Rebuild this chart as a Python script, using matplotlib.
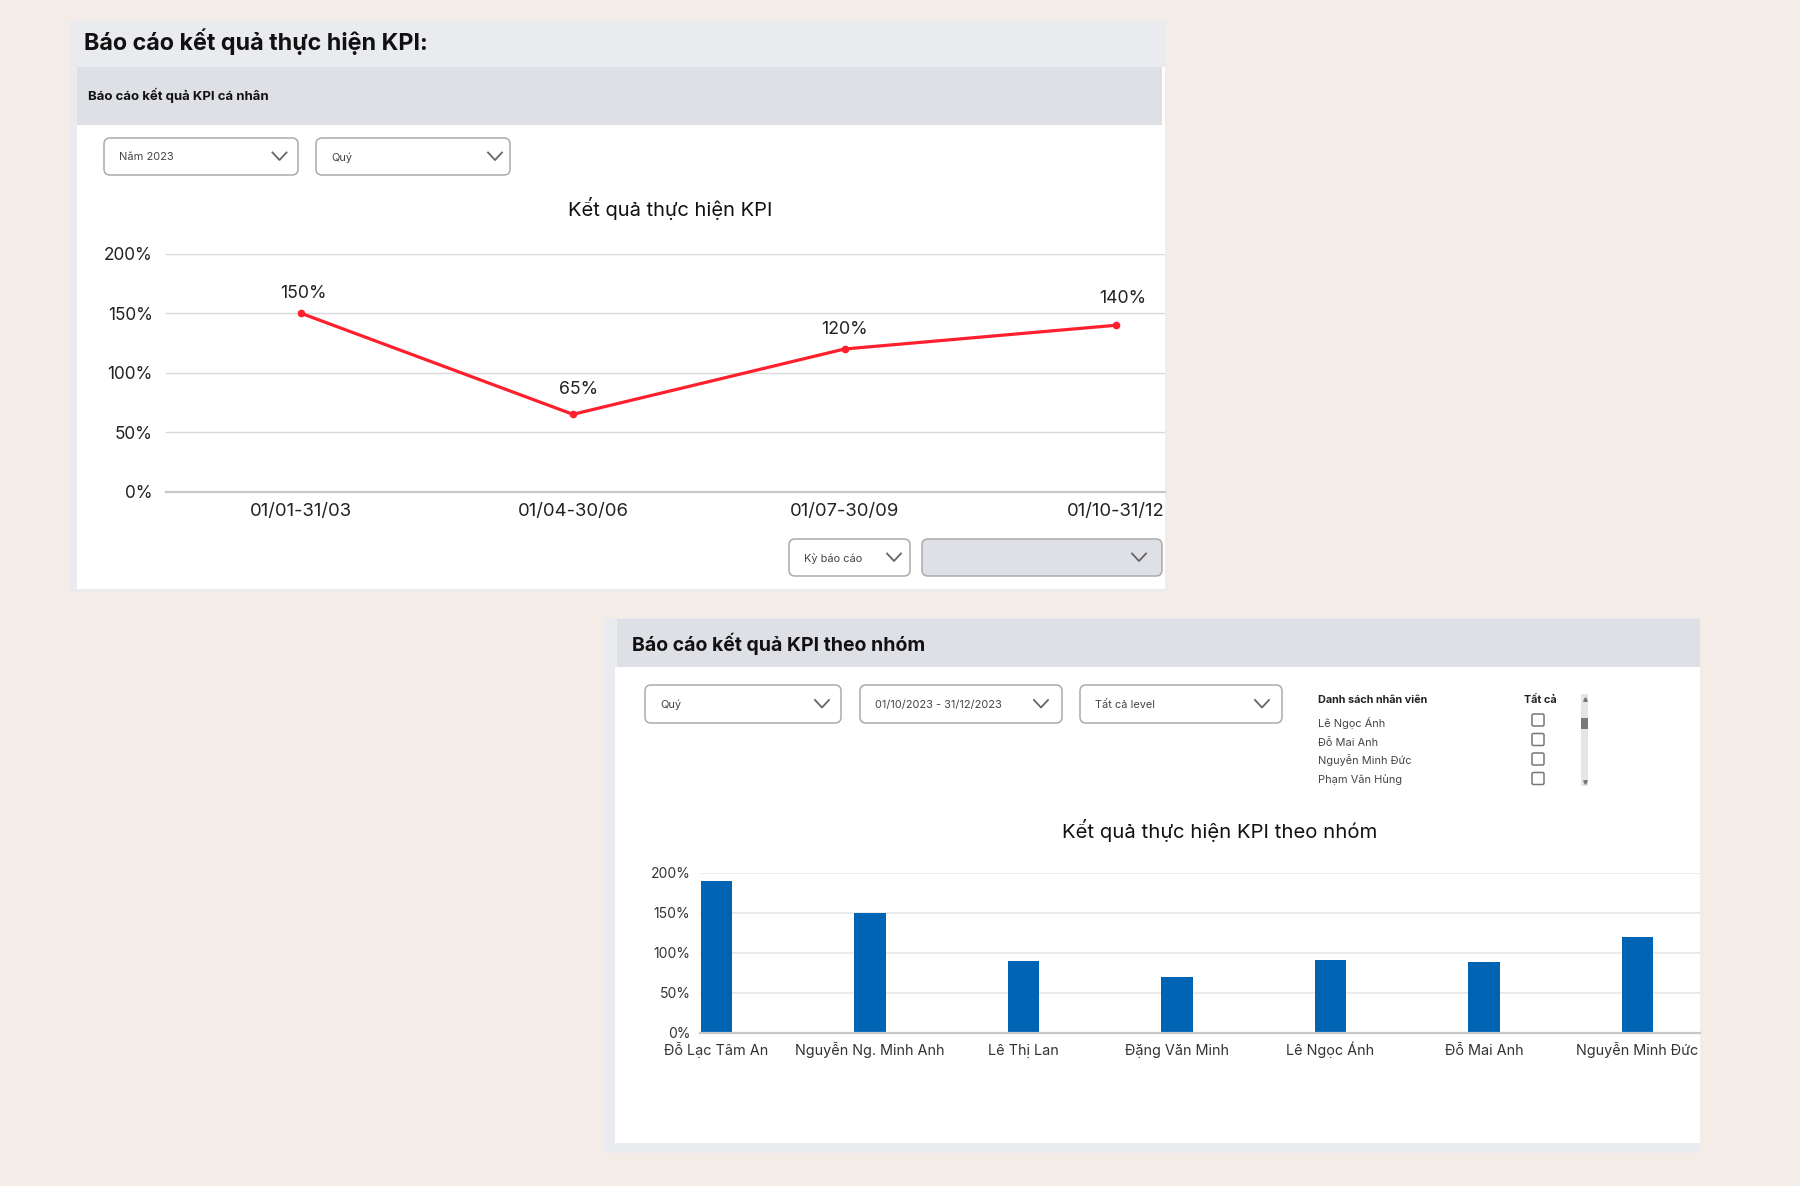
import matplotlib
matplotlib.use("Agg")
import matplotlib.pyplot as plt
from matplotlib.patches import Rectangle, FancyBboxPatch

plt.rcParams['font.family'] = ['Inter', 'DejaVu Sans']

# line chart data
quarters = ["01/01-31/03", "01/04-30/06", "01/07-30/09", "01/10-31/12"]
kpi_values = [150, 65, 120, 140]
kpi_labels = ["150%", "65%", "120%", "140%"]
label_dx = [2, 6, 0, 7]
label_dy = [20, 25, 19, 27]

# bar chart data
staff = ["Đỗ Lạc Tâm An", "Nguyễn Ng. Minh Anh", "Lê Thị Lan", "Đặng Văn Minh",
         "Lê Ngọc Ánh", "Đỗ Mai Anh", "Nguyễn Minh Đức"]
staff_values = [190, 150, 89, 70, 91, 88, 120]

y_ticks = [0, 50, 100, 150, 200]
y_tick_labels = ["0%", "50%", "100%", "150%", "200%"]

# checkbox list
list_names = ["Lê Ngọc Ánh", "Đỗ Mai Anh", "Nguyễn Minh Đức", "Phạm Văn Hùng"]
list_text_y = [723, 742.5, 760, 780]
list_box_y = [720, 739.5, 759, 778.5]

W, H = 1800, 1186
BG = "#F4ECE6"
OUTER = "#E9EBEF"
BAND = "#DEE0E5"
DARK = "#111111"
BORDER = "#A9ABAD"

fig = plt.figure(figsize=(W / 100, H / 100), dpi=100, facecolor=BG)

# pixel canvas for the dashboard panels
ui = fig.add_axes([0, 0, 1, 1])
ui.set_xlim(0, W)
ui.set_ylim(H, 0)
ui.axis("off")


def rect(x0, y0, x1, y1, color):
    ui.add_patch(Rectangle((x0, y0), x1 - x0, y1 - y0, facecolor=color, edgecolor="none"))


def dropdown(x0, y0, x1, y1, text="", fill="white", arrow=18):
    ui.add_patch(FancyBboxPatch((x0 + 5, y0 + 5), x1 - x0 - 10, y1 - y0 - 10,
                                boxstyle="round,pad=5,rounding_size=6",
                                facecolor=fill, edgecolor=BORDER, linewidth=1.1))
    if text:
        ui.text(x0 + 15, (y0 + y1) / 2 + 1, text, fontsize=7.9, color="#444444", va="center")
    cx = x1 - arrow
    cy = (y0 + y1) / 2
    ui.plot([cx - 7, cx, cx + 7], [cy - 4, cy + 3.5, cy - 4], color="#666666", lw=1.3)


def axes_px(x0, y0, x1, y1):
    return fig.add_axes([x0 / W, 1 - y1 / H, (x1 - x0) / W, (y1 - y0) / H])


def style_chart(ax, color, grid, grid_lw):
    for side in ["top", "right", "left"]:
        ax.spines[side].set_visible(False)
    ax.spines["bottom"].set_color("#C8C8C8")
    ax.spines["bottom"].set_linewidth(1.6)
    ax.set_yticks(y_ticks)
    ax.set_yticklabels(y_tick_labels)
    ax.set_ylim(0, 200)
    ax.tick_params(axis="both", length=0, labelcolor=color)
    ax.yaxis.grid(True, color=grid, linewidth=grid_lw)
    ax.set_axisbelow(True)
    ax.patch.set_alpha(0)


# top panel
rect(69, 21, 1165, 592, OUTER)
rect(77, 67, 1165, 589, "white")
rect(77, 67, 1162, 125, BAND)
ui.text(84, 42, "Báo cáo kết quả thực hiện KPI:", fontsize=16.8, fontweight="bold", color=DARK, va="center")
ui.text(88, 95, "Báo cáo kết quả KPI cá nhân", fontsize=9.5, fontweight="bold", color=DARK, va="center")
dropdown(104, 138, 298, 175, "Năm 2023", arrow=18.5)
dropdown(316, 138, 510, 175, "Quý", arrow=15)
dropdown(789, 539, 910, 576, "Kỳ báo cáo", arrow=16)
dropdown(922, 539, 1162, 576, "", fill=BAND, arrow=23)
ui.text(670.5, 209, "Kết quả thực hiện KPI", fontsize=14.5, color=DARK, ha="center", va="center")

# bottom panel
rect(604, 618, 1700, 1153, OUTER)
rect(615, 667, 1700, 1143, "white")
rect(617, 619, 1700, 667, BAND)
ui.text(632, 644, "Báo cáo kết quả KPI theo nhóm", fontsize=14, fontweight="bold", color=DARK, va="center")
dropdown(645, 685, 841, 723, "Quý", arrow=19)
dropdown(860, 685, 1062, 723, "01/10/2023 - 31/12/2023", arrow=21)
dropdown(1080, 685, 1282, 723, "Tất cả level", arrow=20)
ui.text(1220, 831, "Kết quả thực hiện KPI theo nhóm", fontsize=14.6, color=DARK, ha="center", va="center")

# employee list with checkboxes
ui.text(1318, 700, "Danh sách nhân viên", fontsize=7.8, fontweight="bold", color="#222222", va="center")
ui.text(1540, 700, "Tất cả", fontsize=7.8, fontweight="bold", color="#222222", ha="center", va="center")
for name, ty, by in zip(list_names, list_text_y, list_box_y):
    ui.text(1318, ty, name, fontsize=7.9, color="#444444", va="center")
    ui.add_patch(FancyBboxPatch((1534, by - 4), 8, 8, boxstyle="round,pad=2,rounding_size=1.5",
                                facecolor="white", edgecolor="#777777", linewidth=1.1))
rect(1581, 694, 1588, 786, "#E3E5E8")
rect(1581, 718, 1588, 729, "#7A7A7A")
ui.plot([1584.5], [699], marker="^", ms=2.5, color="#777777")
ui.plot([1584.5], [782], marker="v", ms=2.5, color="#777777")
ui.set_xlim(0, W)
ui.set_ylim(H, 0)

# line chart
ax1 = axes_px(165.5, 254, 1165, 491.5)
ax1.plot(range(len(quarters)), kpi_values, color="#FF1F2D", linewidth=2.3,
         marker="o", markersize=4.5, clip_on=False)
ax1.set_xticks(range(len(quarters)))
ax1.set_xticklabels(quarters)
ax1.set_xlim(-0.5, 3.18)
style_chart(ax1, "#222222", "#D9D9D9", 1.0)
ax1.tick_params(axis="y", pad=9.3, labelsize=12.4)
ax1.tick_params(axis="x", pad=8, labelsize=13.3)
for i, (v, txt) in enumerate(zip(kpi_values, kpi_labels)):
    ax1.annotate(txt, (i, v), xytext=(label_dx[i] * 0.72, label_dy[i] * 0.72), textcoords="offset points",
                 ha="center", va="center", fontsize=12.8, color="#222222")

# bar chart
ax2 = axes_px(700, 872.5, 1700, 1032.5)
ax2.bar(range(len(staff)), staff_values, width=0.205, color="#0064B5")
ax2.set_xticks(range(len(staff)))
ax2.set_xticklabels(staff)
ax2.set_xlim(-0.107, 6.408)
style_chart(ax2, "#333333", "#E9E9E9", 1.3)
ax2.tick_params(axis="y", pad=7, labelsize=10)
ax2.tick_params(axis="x", pad=16, labelsize=10.4)
for lab in ax2.get_xticklabels():
    lab.set_va("baseline")

fig.savefig("out.png", dpi=100, facecolor=BG)
